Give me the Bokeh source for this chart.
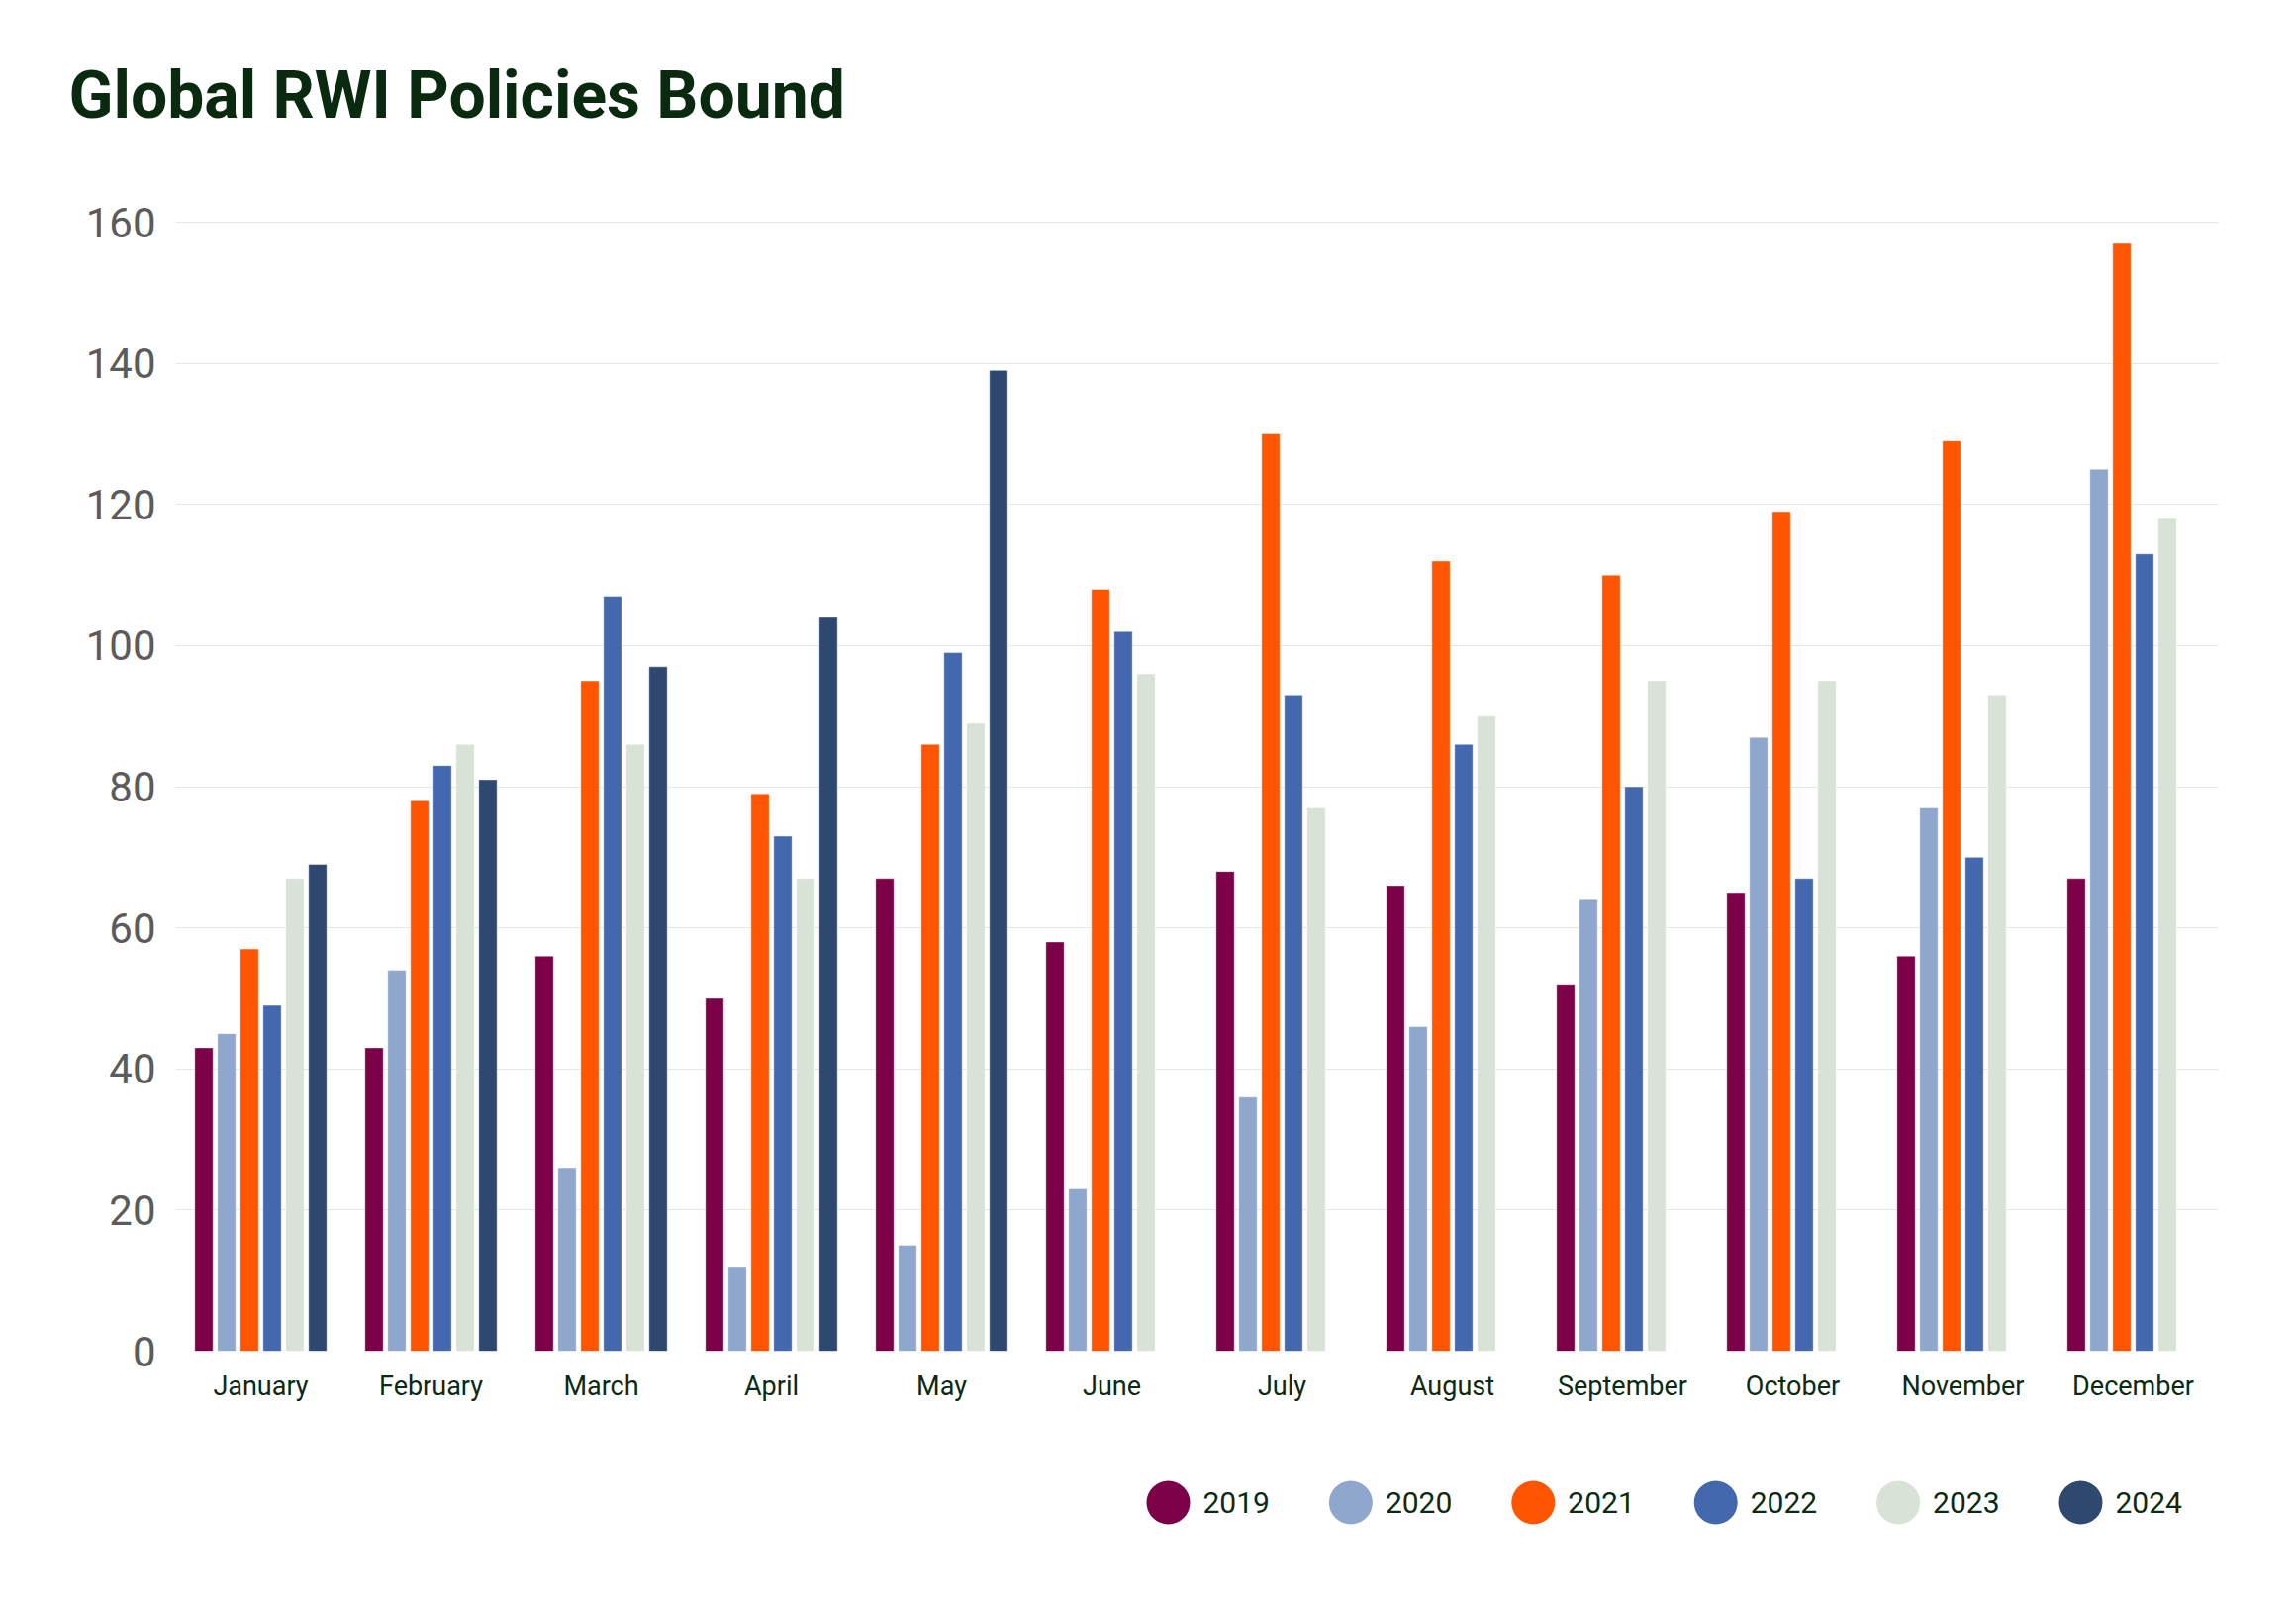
from bokeh.plotting import figure
from bokeh.layouts import column
from bokeh.models import Range1d, FactorRange, FixedTicker, ColumnDataSource, Title
from bokeh.core.properties import value
from bokeh.transform import dodge
from bokeh.embed import file_html
from bokeh.resources import INLINE

months = ["January", "February", "March", "April", "May", "June",
          "July", "August", "September", "October", "November", "December"]
years = ["2019", "2020", "2021", "2022", "2023", "2024"]
y2019 = [43, 43, 56, 50, 67, 58, 68, 66, 52, 65, 56, 67]
y2020 = [45, 54, 26, 12, 15, 23, 36, 46, 64, 87, 77, 125]
y2021 = [57, 78, 95, 79, 86, 108, 130, 112, 110, 119, 129, 157]
y2022 = [49, 83, 107, 73, 99, 102, 93, 86, 80, 67, 70, 113]
y2023 = [67, 86, 86, 67, 89, 96, 77, 90, 95, 95, 93, 118]
y2024 = [69, 81, 97, 104, 139]
months2024 = months[:5]
y_ticks = [0, 20, 40, 60, 80, 100, 120, 140, 160]
colors = ["#7b0048", "#8fa6cd", "#ff5500", "#4368ad", "#d8e2d6", "#2e4870"]
title_text = "Global RWI Policies Bound"

FONT = "Roboto"
W = 2304
BL, BR = 177, 63

p = figure(width=W, height=1430, x_range=FactorRange(*months, range_padding=0),
           y_range=Range1d(0, 161), output_backend="svg", toolbar_location=None,
           min_border_left=BL, min_border_right=BR, min_border_top=217, min_border_bottom=65)
p.outline_line_color = None
p.background_fill_color = "white"
p.border_fill_color = "white"

# white spacer between the title and the plot area
p.add_layout(Title(text=".", text_font_size="10px", text_color="white", standoff=73), "above")

# title
p.title.text = title_text
p.title.text_font = FONT
p.title.text_font_size = "66px"
p.title.text_font_style = "bold"
p.title.text_color = "#0a2a10"
p.title.align = "left"
p.title.offset = -108
p.title.standoff = 0

series = [(months, y2019), (months, y2020), (months, y2021), (months, y2022),
          (months, y2023), (months2024, y2024)]
step = 0.1337
bw = 0.107
for i, ((mx, vals), yr, col) in enumerate(zip(series, years, colors)):
    src = ColumnDataSource(dict(m=mx, v=vals))
    off = (i - 2.5) * step
    p.vbar(x=dodge("m", off, range=p.x_range), top="v", width=bw, bottom=0, source=src,
           fill_color=col, line_color="white", line_alpha=0.45, line_width=1)

# grid & axes
p.xgrid.grid_line_color = None
p.ygrid.grid_line_color = "#e2e8e2"
p.ygrid.grid_line_width = 1.2
p.yaxis.ticker = FixedTicker(ticks=y_ticks)
p.yaxis.axis_line_color = None
p.yaxis.major_tick_line_color = None
p.yaxis.minor_tick_line_color = None
p.yaxis.major_tick_out = 0
p.yaxis.major_tick_in = 0
p.yaxis.major_label_standoff = 20
p.yaxis.major_label_text_font = FONT
p.yaxis.major_label_text_font_size = "42px"
p.yaxis.major_label_text_color = "#5b5b5b"

p.xaxis.axis_line_color = None
p.xaxis.major_tick_line_color = None
p.xaxis.minor_tick_line_color = None
p.xaxis.major_tick_out = 0
p.xaxis.major_tick_in = 0
p.xaxis.major_label_standoff = 19
p.xaxis.major_label_text_font = FONT
p.xaxis.major_label_text_font_size = "27px"
p.xaxis.major_label_text_color = "#0b2a12"

# legend strip below the chart (x in pixels of the strip)
LH = 171
lg = figure(width=W, height=LH, x_range=Range1d(BL, W - BR), y_range=Range1d(0, LH),
            output_backend="svg", toolbar_location=None,
            min_border_left=BL, min_border_right=BR, min_border_top=0, min_border_bottom=0)
lg.axis.visible = False
lg.grid.visible = False
lg.outline_line_color = None
lg.background_fill_color = "white"
lg.border_fill_color = "white"

leg_x0, leg_step, leg_y, txt_gap = 1180, 184.4, 83, 35
lx = [leg_x0 + i * leg_step for i in range(len(years))]
lsrc = ColumnDataSource(dict(x=lx, tx=[v + txt_gap for v in lx], y=[leg_y] * len(years),
                             label=years, color=colors))
lg.scatter(x="x", y="y", source=lsrc, marker="circle", size=44, fill_color="color", line_color=None)
lg.text(x="tx", y="y", text="label", source=lsrc, text_font=value(FONT), text_font_size="30px",
        text_color="#0b2a12", text_baseline="middle", text_align="left")

layout = column(p, lg, spacing=0)
open("out.html", "w").write(file_html(layout, INLINE))
